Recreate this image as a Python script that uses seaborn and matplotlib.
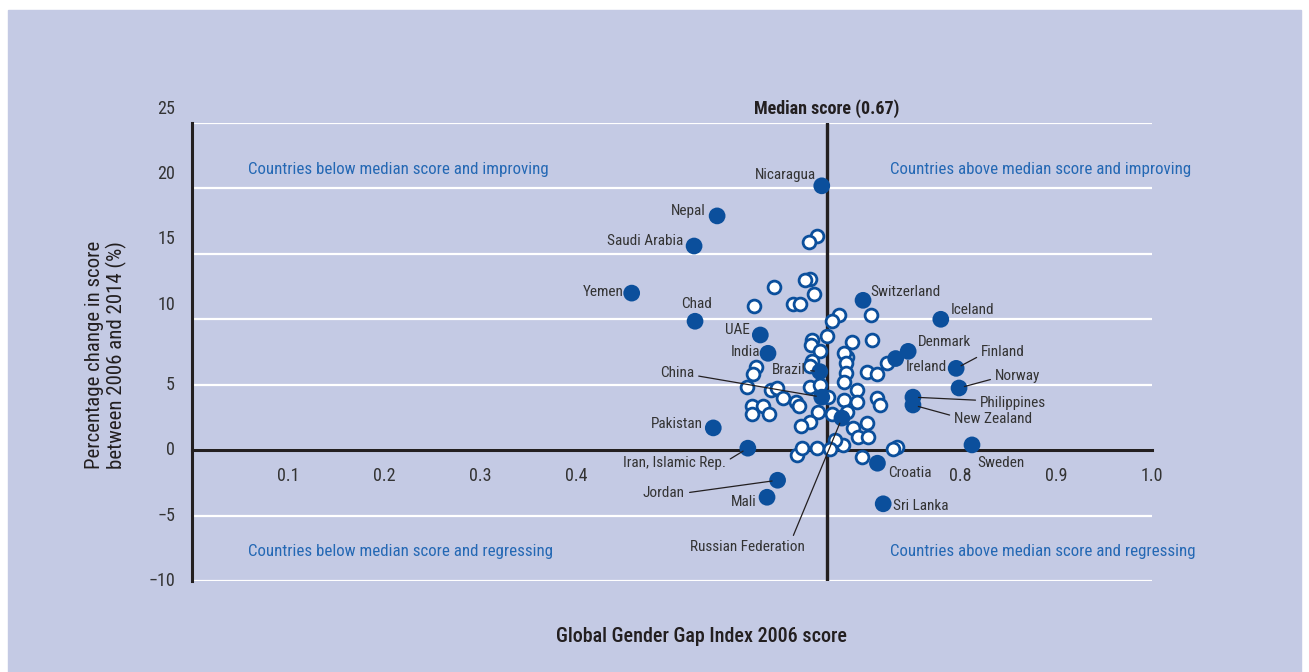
#!/usr/bin/env python3
import pandas as pd
import seaborn as sns
import matplotlib.pyplot as plt
from matplotlib.patches import Rectangle

# labelled countries (filled markers)
labelled_names = ['Nicaragua', 'Nepal', 'Saudi Arabia', 'Yemen', 'Chad', 'UAE', 'India', 'Brazil',
                  'China', 'Pakistan', 'Iran, Islamic Rep.', 'Jordan', 'Mali', 'Russian Federation',
                  'Croatia', 'Sri Lanka', 'Switzerland', 'Iceland', 'Denmark', 'Ireland', 'Finland',
                  'Norway', 'Philippines', 'New Zealand', 'Sweden']
labelled_score = [0.656, 0.547, 0.523, 0.458, 0.524, 0.592, 0.600, 0.654,
                  0.656, 0.543, 0.579, 0.610, 0.599, 0.677,
                  0.714, 0.720, 0.699, 0.780, 0.746, 0.733, 0.796,
                  0.799, 0.751, 0.751, 0.8125]
labelled_change = [20.2, 17.9, 15.6, 12.0, 9.85, 8.8, 7.4, 6.0,
                   4.05, 1.7, 0.15, -2.3, -3.6, 2.45,
                   -1.0, -4.1, 11.45, 10.0, 7.55, 7.0, 6.25,
                   4.75, 4.05, 3.45, 0.4]

# other countries (open markers)
other_score = [0.651, 0.643, 0.644, 0.639, 0.606, 0.648, 0.585, 0.626, 0.633, 0.674,
               0.667, 0.707, 0.661, 0.646, 0.645, 0.654, 0.688, 0.708, 0.682, 0.646,
               0.644, 0.588, 0.584, 0.578, 0.603, 0.609, 0.616, 0.629, 0.632, 0.583,
               0.595, 0.583, 0.601, 0.644, 0.654, 0.652, 0.644, 0.634, 0.679, 0.681,
               0.681, 0.679, 0.693, 0.679, 0.693, 0.703, 0.714, 0.724, 0.667, 0.682,
               0.689, 0.703, 0.694, 0.704, 0.678, 0.670, 0.714, 0.717, 0.663, 0.630,
               0.635, 0.651, 0.665, 0.698, 0.734, 0.730]
other_change = [16.35, 15.9, 13.1, 13.0, 12.45, 11.9, 11.05, 11.2, 11.2, 10.3,
                9.85, 10.3, 8.7, 8.45, 8.0, 7.55, 8.3, 8.45, 7.1, 6.8,
                6.4, 6.35, 5.8, 4.8, 4.6, 4.75, 3.95, 3.65, 3.35, 3.35,
                3.35, 2.75, 2.75, 4.8, 4.95, 2.9, 2.15, 1.85, 7.4, 6.65,
                5.9, 5.2, 4.6, 3.8, 3.65, 5.95, 5.8, 6.65, 2.8, 2.9,
                1.7, 2.05, 1.0, 1.0, 0.4, 0.75, 3.95, 3.45, 4.05, -0.4,
                0.15, 0.15, 0.1, -0.55, 0.25, 0.1]

median_score = 0.661
x_ticks = [0.1, 0.2, 0.3, 0.4, 0.5, 0.6, 0.7, 0.8, 0.9, 1.0]
x_tick_labels = ['0.1', '0.2', '0.3', '0.4', '', '', '', '0.8', '0.9', '1.0']
y_ticks = [-10, -5, 0, 5, 10, 15, 20, 25]
y_tick_labels = ['\u221210', '\u22125', '0', '5', '10', '15', '20', '25']

# label placement: text position, alignment, leader line start (relpos) or None
label_pos = {
    'Nicaragua': (0.650, 21.0, 'right', None),
    'Nepal': (0.5354, 18.25, 'right', None),
    'Saudi Arabia': (0.5115, 15.95, 'right', None),
    'Yemen': (0.450, 12.06, 'right', None),
    'Chad': (0.526, 11.15, 'center', None),
    'UAE': (0.581, 9.16, 'right', None),
    'India': (0.5917, 7.48, 'right', None),
    'Brazil': (0.6396, 6.11, 'right', (1, 0.5)),
    'China': (0.523, 5.88, 'right', (1, 0.35)),
    'Pakistan': (0.532, 1.98, 'right', None),
    'Iran, Islamic Rep.': (0.556, -0.99, 'right', (1, 0.6)),
    'Jordan': (0.5135, -3.28, 'right', (1, 0.5)),
    'Mali': (0.5885, -3.97, 'right', None),
    'Russian Federation': (0.579, -7.40, 'center', (0.88, 1.0)),
    'Croatia': (0.725, -1.76, 'left', None),
    'Sri Lanka': (0.730, -4.27, 'left', None),
    'Switzerland': (0.707, 12.06, 'left', None),
    'Iceland': (0.7906, 10.69, 'left', None),
    'Denmark': (0.756, 8.24, 'left', None),
    'Ireland': (0.744, 6.34, 'left', None),
    'Finland': (0.822, 7.48, 'left', (0, 0.3)),
    'Norway': (0.8365, 5.65, 'left', (0, 0.35)),
    'Philippines': (0.821, 3.59, 'left', (0, 0.7)),
    'New Zealand': (0.794, 2.37, 'left', (0, 0.7)),
    'Sweden': (0.8177, -0.99, 'left', None),
}

BLUE = '#0B4F9C'
BG = '#C4CAE4'
TEXT = '#333333'
QUAD = '#2468B4'
DARK = '#231F20'

labelled = pd.DataFrame({'country': labelled_names, 'score': labelled_score, 'change': labelled_change})
others = pd.DataFrame({'score': other_score, 'change': other_change})

sns.set_style('white')
plt.rcParams['font.family'] = ['Roboto Condensed', 'Liberation Sans Narrow', 'Liberation Sans']

fig = plt.figure(figsize=(13.09, 6.72), dpi=100)
fig.patch.set_facecolor('white')
fig.patches.append(Rectangle((8 / 1309, 0), 1 - 16 / 1309, 1 - 10 / 672,
                             transform=fig.transFigure, color=BG, zorder=-10))

ax = fig.add_axes([192 / 1309, 1 - 581 / 672, 960 / 1309, 458 / 672])
ax.set_zorder(5)
ax.patch.set_visible(False)
ax.set_xlim(0, 1.0)
ax.set_ylim(-10, 25)

# grid and axes
ax.set_yticks(y_ticks)
ax.yaxis.grid(True, color='white', linewidth=1.6)
ax.xaxis.grid(False)
ax.set_axisbelow(True)
ax.tick_params(axis='y', length=0, labelleft=False)
ax.set_xticks(x_ticks)
ax.set_xticklabels(x_tick_labels)
ax.tick_params(axis='x', direction='in', length=8.5, width=2, color=DARK,
               pad=12, labelsize=13, labelcolor=TEXT)
for side in ['top', 'right']:
    ax.spines[side].set_visible(False)
ax.spines['bottom'].set_position(('data', 0))
for side in ['left', 'bottom']:
    ax.spines[side].set_color(DARK)
    ax.spines[side].set_linewidth(2.2)

for v, lab in zip(y_ticks, y_tick_labels):
    shift = 1.1 if v >= 10 else 0
    ax.text(-0.0177, v + shift, lab, ha='right', va='center', fontsize=13, color=TEXT)

ax.axvline(median_score, color=DARK, linewidth=2.4, zorder=2.5)
ax.text(median_score, 26.1, 'Median score (0.67)', ha='center', va='center',
        fontsize=13, fontweight='bold', color=DARK)

# points
sns.scatterplot(data=others, x='score', y='change', ax=ax, s=85, color='white',
                edgecolor=BLUE, linewidth=2.0, zorder=3, legend=False)
sns.scatterplot(data=labelled, x='score', y='change', ax=ax, s=145, color=BLUE,
                edgecolor='none', zorder=4, legend=False)
ax.set_xlabel('')
ax.set_ylabel('')

for _, row in labelled.iterrows():
    tx, ty, ha, relpos = label_pos[row['country']]
    if relpos is None:
        ax.text(tx, ty, row['country'], ha=ha, va='center', fontsize=11, color=TEXT, zorder=5)
    else:
        ax.annotate(row['country'], xy=(row['score'], row['change']), xytext=(tx, ty),
                    ha=ha, va='center', fontsize=11, color=TEXT, zorder=5,
                    arrowprops=dict(arrowstyle='-', color=DARK, linewidth=0.9,
                                    relpos=relpos, shrinkA=1, shrinkB=4))

# quadrant notes
quad_kw = dict(fontsize=12.2, color=QUAD, va='center', ha='left', clip_on=False)
ax.text(0.0583, 21.45, 'Countries below median score and improving', **quad_kw)
ax.text(0.727, 21.45, 'Countries above median score and improving', **quad_kw)
ax.text(0.0583, -7.71, 'Countries below median score and regressing', **quad_kw)
ax.text(0.727, -7.71, 'Countries above median score and regressing', **quad_kw)

fig.text(701 / 1309, 1 - 637 / 672, 'Global Gender Gap Index 2006 score',
         ha='center', va='center', fontsize=14.5, fontweight='medium', color=DARK)
fig.text(106 / 1309, 1 - 355 / 672, 'Percentage change in score\nbetween 2006 and 2014 (%)',
         ha='center', va='center', rotation=90, fontsize=15, color=DARK,
         multialignment='center', linespacing=1.15)

fig.savefig('out.png', dpi=100)
